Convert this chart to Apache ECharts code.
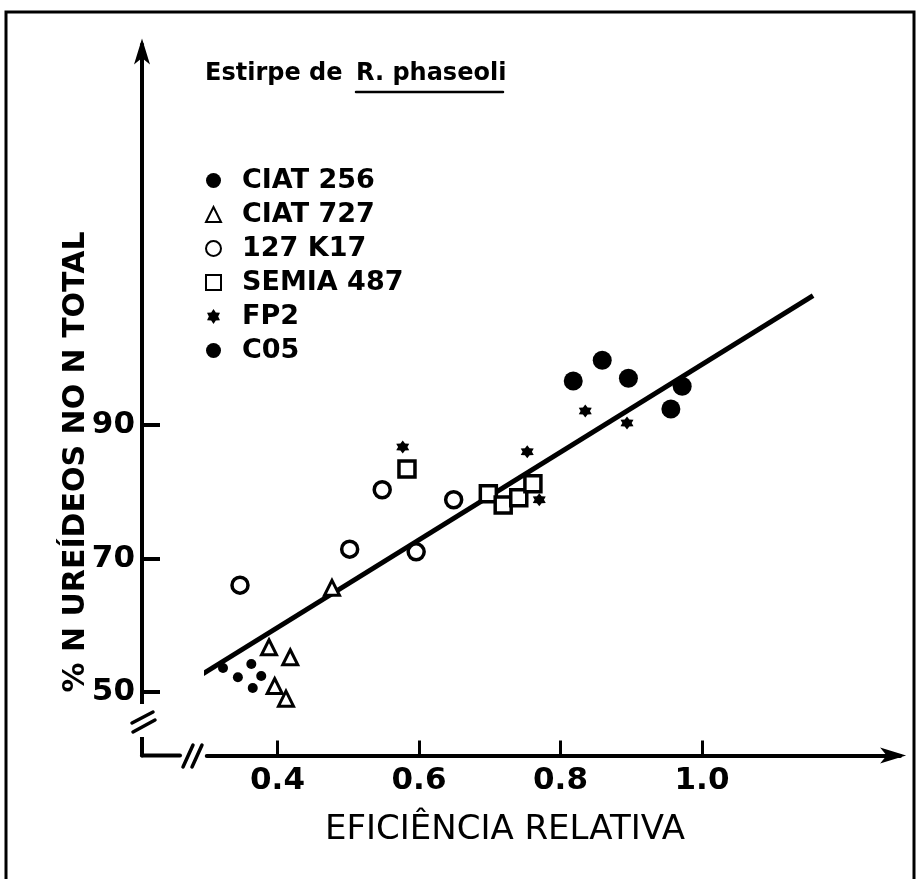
<!DOCTYPE html>
<html><head><meta charset="utf-8">
<script src="https://cdn.jsdelivr.net/npm/echarts@6/dist/echarts.min.js"></script>
<style>html,body{margin:0;padding:0;background:#fff}#c{width:919px;height:879px}</style>
</head><body><div id="c"></div>
<script>
// ---- data ----
const xTicks = [0.4, 0.6, 0.8, 1.0];
const yTicks = [50, 70, 90];
const legendNames = ['CIAT 256', 'CIAT 727', '127 K17', 'SEMIA 487', 'FP2', 'C05'];
const ciat256 = [[0.323,53.6],[0.363,54.2],[0.344,52.2],[0.377,52.4],[0.365,50.6]];
const ciat727 = [[0.388,56.7],[0.418,55.2],[0.396,50.9],[0.412,49.0],[0.477,65.6]];
const k17     = [[0.347,66.0],[0.502,71.4],[0.596,71.0],[0.548,80.3],[0.649,78.8]];
const semia   = [[0.583,83.4],[0.698,79.7],[0.719,78.0],[0.741,79.1],[0.761,81.2]];
const fp2     = [[0.577,86.7],[0.753,86.0],[0.770,78.8],[0.835,92.1],[0.894,90.3]];
const c05     = [[0.818,96.6],[0.859,99.7],[0.896,97.0],[0.972,95.8],[0.956,92.4]];
const fitLine = [[0.269,51.05],[1.157,109.4]];
const titleA = 'Estirpe de';
const titleB = 'R. phaseoli';
const xName = 'EFICIÊNCIA RELATIVA';
const yName = '% N UREÍDEOS NO N TOTAL';

// ---- layout ----
const FONT = '"DejaVu Sans", sans-serif';
const X_MIN = 0.3, X_MAX = 1.28, Y_MIN = 40.5, Y_MAX = 147;
const PX_X = 707.5, PX_Y = 6.675;
const X_REF_PX = 277.5, X_REF = 0.4, Y_REF_PX = 425, Y_REF = 90;
const gridLeft = X_REF_PX - (X_REF - X_MIN) * PX_X;
const gridW = (X_MAX - X_MIN) * PX_X;
const gridTop = Y_REF_PX - (Y_MAX - Y_REF) * PX_Y;
const gridH = (Y_MAX - Y_MIN) * PX_Y;
const gridBottom = gridTop + gridH;
const yAxisX = 142;
const black = '#000';

function starPath() {
  const pts = [];
  for (let i = 0; i < 12; i++) {
    const a = Math.PI / 6 * i - Math.PI / 2;
    const r = i % 2 ? 0.62 : 1;
    pts.push((r * Math.cos(a)).toFixed(3) + ' ' + (r * Math.sin(a)).toFixed(3));
  }
  return 'path://M' + pts.join(' L') + ' Z';
}

const chart = echarts.init(document.getElementById('c'));
const ln = (x1, y1, x2, y2, w) => ({type:'line', shape:{x1, y1, x2, y2}, style:{stroke:black, lineWidth:w || 4, lineCap:'round'}, z:10});
const filled = {color: black, opacity: 1};
const open = (w) => ({color: '#fff', borderColor: black, borderWidth: w, opacity: 1});

chart.setOption({
  animation: false,
  backgroundColor: '#fff',
  grid: {left: gridLeft, top: gridTop, width: gridW, height: gridH, outerBoundsMode: 'none', containLabel: false},
  xAxis: {
    type: 'value', min: X_MIN, max: X_MAX,
    axisLine: {show: true, lineStyle: {color: black, width: 4}, symbol: ['none', 'arrow'], symbolSize: [12, 26], symbolOffset: [0, 6]},
    axisTick: {show: true, inside: true, length: 15, lineStyle: {width: 3, color: black}, customValues: xTicks},
    axisLabel: {customValues: xTicks, formatter: v => v.toFixed(1), fontFamily: FONT, fontWeight: 'bold', fontSize: 31, color: black, margin: 10},
    splitLine: {show: false}
  },
  yAxis: {
    type: 'value', min: Y_MIN, max: Y_MAX, offset: gridLeft - yAxisX,
    axisLine: {show: true, lineStyle: {color: black, width: 4}, symbol: ['none', 'arrow'], symbolSize: [12, 26], symbolOffset: [0, 6]},
    axisTick: {show: true, inside: true, length: 18, lineStyle: {width: 4, color: black}, customValues: yTicks},
    axisLabel: {customValues: yTicks, formatter: v => String(v), fontFamily: FONT, fontWeight: 'bold', fontSize: 31, color: black, margin: 7},
    splitLine: {show: false}
  },
  legend: {
    orient: 'vertical', left: 200, top: 162, itemGap: 7, itemWidth: 15, itemHeight: 15,
    data: legendNames, selectedMode: false,
    textStyle: {fontFamily: FONT, fontWeight: 'bold', fontSize: 27, color: black, padding: [0, 0, 0, 16]}
  },
  series: [
    {name: legendNames[0], type: 'scatter', data: ciat256, symbol: 'circle', symbolSize: 10, itemStyle: filled, z: 3},
    {name: legendNames[1], type: 'scatter', data: ciat727, symbol: 'triangle', symbolSize: 15, itemStyle: open(3), z: 3},
    {name: legendNames[2], type: 'scatter', data: k17, symbol: 'circle', symbolSize: 16, itemStyle: open(3.5), z: 3},
    {name: legendNames[3], type: 'scatter', data: semia, symbol: 'rect', symbolSize: 16, itemStyle: open(3.5), z: 3},
    {name: legendNames[4], type: 'scatter', data: fp2, symbol: starPath(), symbolSize: 13, itemStyle: filled, z: 3},
    {name: legendNames[5], type: 'scatter', data: c05, symbol: 'circle', symbolSize: 19, itemStyle: filled, z: 3},
    {name: 'fit', type: 'line', data: fitLine, symbol: 'none', lineStyle: {color: black, width: 5}, z: 1, silent: true}
  ],
  graphic: [
    {type: 'polyline', shape: {points: [[6, 879], [6, 12], [914, 12], [914, 879]]}, style: {stroke: black, lineWidth: 3, fill: null}, z: 10},
    {type: 'rect', shape: {x: 134, y: 704, width: 16, height: 33}, style: {fill: '#fff'}, z: 9},
    ln(132, 723, 153, 712, 3.5), ln(133, 732, 155, 720, 3.5),
    ln(yAxisX, gridBottom, 180, gridBottom, 4),
    ln(183, 767, 193, 745, 3.5), ln(192, 767, 202, 745, 3.5),
    {type: 'text', left: 205, top: 62, style: {text: titleA, font: 'bold 24px ' + FONT, fill: black}, z: 10},
    {type: 'text', left: 356, top: 62, style: {text: titleB, font: 'bold 24px ' + FONT, fill: black}, z: 10},
    ln(356, 92, 503, 92, 2.5),
    {type: 'text', x: 505, y: 830, style: {text: xName, font: '34px ' + FONT, fill: black, align: 'center', verticalAlign: 'middle'}, z: 10},
    {type: 'text', x: 76, y: 462, rotation: Math.PI / 2, style: {text: yName, font: 'bold 30px ' + FONT, fill: black, align: 'center', verticalAlign: 'middle'}, z: 10}
  ]
});
</script></body></html>
